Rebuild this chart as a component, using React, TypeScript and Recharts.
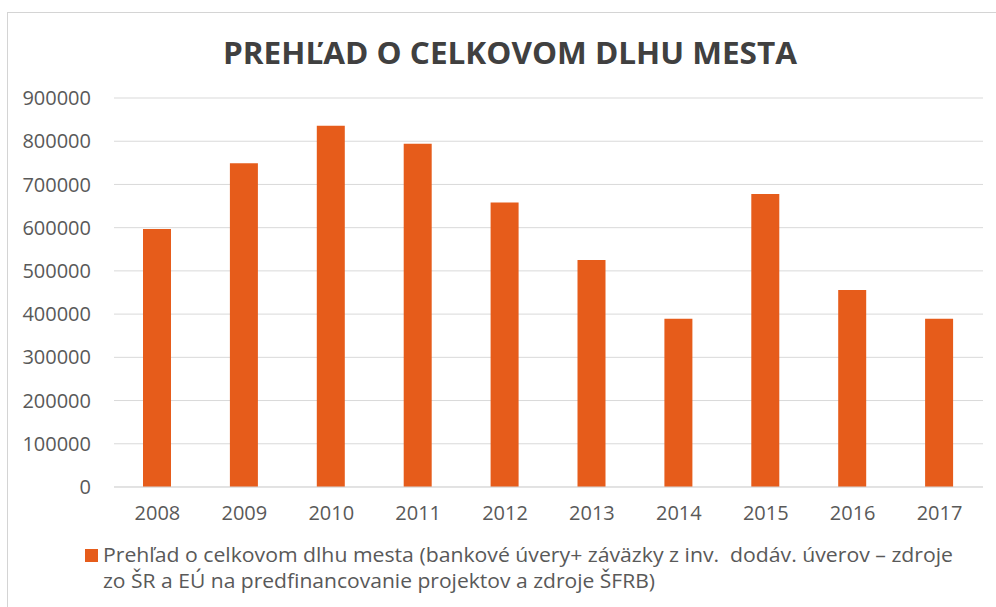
import React from 'react';
import { BarChart, Bar, XAxis, YAxis, CartesianGrid } from 'recharts';

const years = ['2008', '2009', '2010', '2011', '2012', '2013', '2014', '2015', '2016', '2017'];
const debt = [597000, 749000, 836000, 794000, 658000, 525000, 389000, 678000, 456000, 389000];
const yTicks = [0, 100000, 200000, 300000, 400000, 500000, 600000, 700000, 800000, 900000];
const title = 'PREHĽAD O CELKOVOM DLHU MESTA';
const legendLine1 = 'Prehľad o celkovom dlhu mesta (bankové úvery+ záväzky z inv.  dodáv. úverov – zdroje';
const legendLine2 = 'zo ŠR a EÚ na predfinancovanie projektov a zdroje ŠFRB)';

const data = years.map((y, i) => ({ year: y, value: debt[i] }));

const BAR = '#E65C1B';
const FONT = '"Open Sans", sans-serif';

export default function App() {
  return (
    <div style={{ position: 'absolute', left: 0, top: 0, width: 996, height: 607, overflow: 'hidden', background: '#fff', fontFamily: FONT }}>
      <div style={{ position: 'absolute', left: 7, top: 12, width: 1100, height: 700, border: '1px solid #d4d4d4', boxSizing: 'border-box' }} />
      <svg style={{ position: 'absolute', left: 0, top: 0 }} width={996} height={607}>
        <text x={510} y={64} textAnchor="middle" textLength={574} lengthAdjust="spacingAndGlyphs" fontSize={31} fontWeight="bold" fill="#404040" fontFamily={FONT}>{title}</text>
        <rect x={85} y={549} width={13} height={13} fill={BAR} />
        <text x={103} y={562} textLength={850} lengthAdjust="spacingAndGlyphs" fontSize={20} fill="#595959" fontFamily={FONT} style={{ whiteSpace: 'pre' }}>{legendLine1}</text>
        <text x={103} y={588} textLength={552} lengthAdjust="spacingAndGlyphs" fontSize={20} fill="#595959" fontFamily={FONT}>{legendLine2}</text>
      </svg>
      <div style={{ position: 'absolute', left: 0, top: 0 }}>
        <BarChart width={996} height={607} data={data} margin={{ top: 98, right: 13, bottom: 90, left: 0 }}>
          <CartesianGrid vertical={false} stroke="#d9d9d9" strokeWidth={1} />
          <XAxis dataKey="year" height={30} axisLine={{ stroke: '#d9d9d9' }} tickLine={false} tickSize={0} tickMargin={19} tick={{ fill: '#595959', fontSize: 20, fontFamily: FONT }} interval={0} />
          <YAxis width={114} domain={[0, 900000]} ticks={yTicks} axisLine={false} tickLine={false} tickSize={0} tickMargin={23} tick={{ fill: '#595959', fontSize: 20, fontFamily: FONT }} interval={0} />
          <Bar dataKey="value" fill={BAR} barSize={28} isAnimationActive={false} />
        </BarChart>
      </div>
    </div>
  );
}
